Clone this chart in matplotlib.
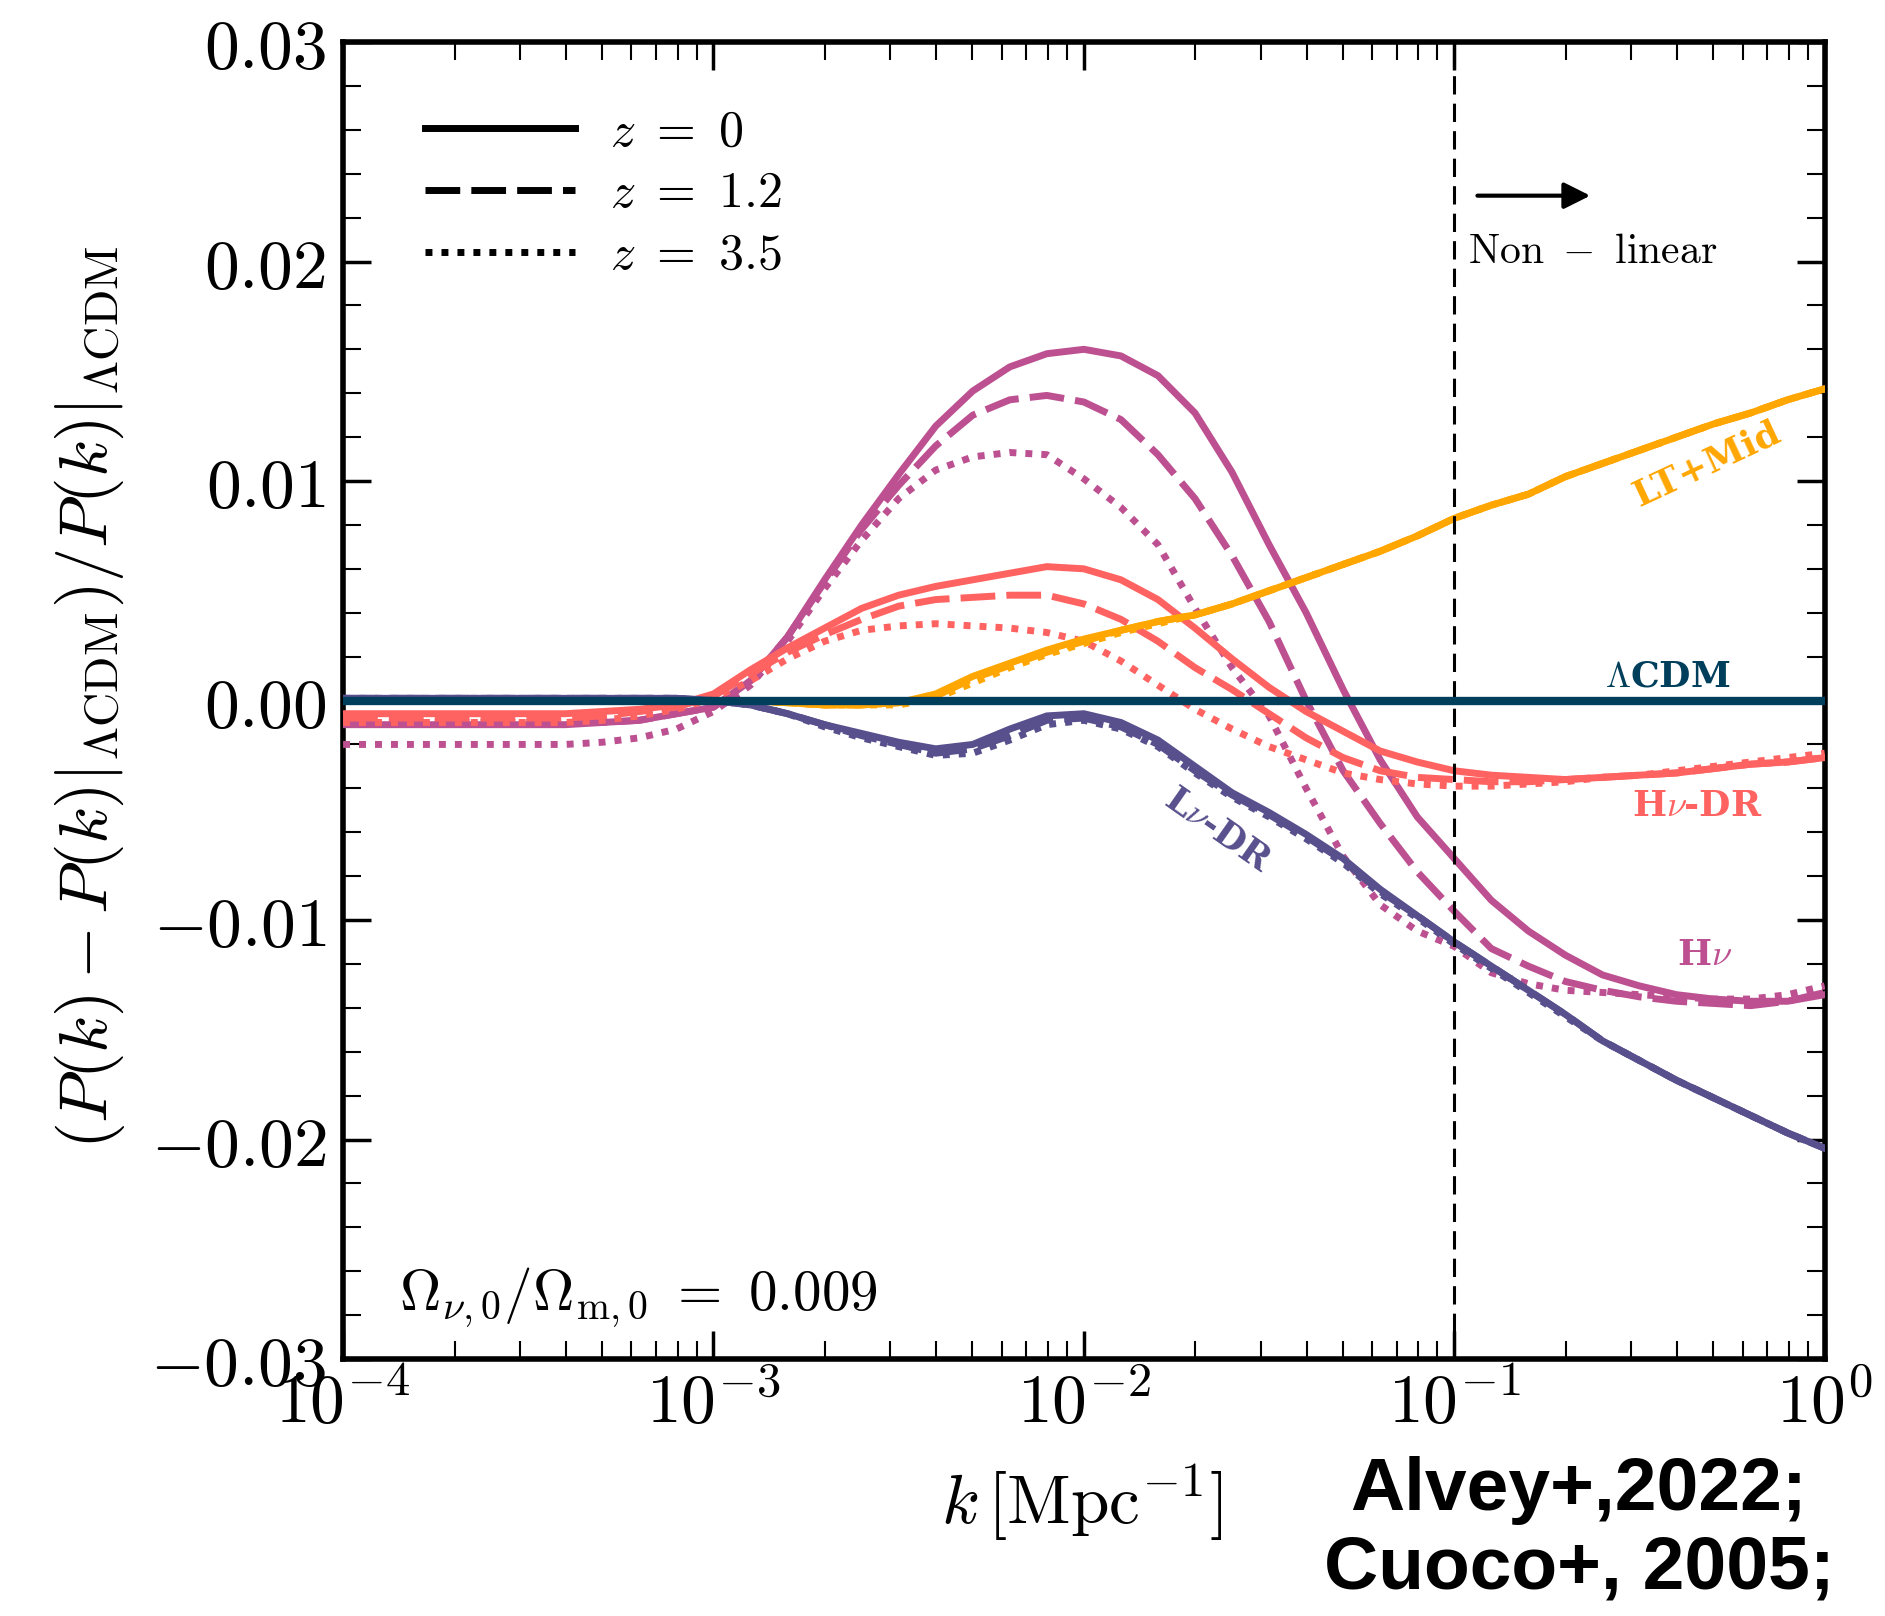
import numpy as np
import matplotlib
matplotlib.use('Agg')
import matplotlib.pyplot as plt
from matplotlib.lines import Line2D

plt.rcParams['mathtext.fontset'] = 'cm'
plt.rcParams['font.family'] = ['DejaVu Serif']

# log10(k) grid shared by all curves
logk = [-4.0, -3.6, -3.4, -3.3, -3.2, -3.1, -3.0,
        -2.9, -2.8, -2.7, -2.6, -2.5, -2.4, -2.3, -2.2, -2.1, -2.0,
        -1.9, -1.8, -1.7, -1.6, -1.5, -1.4, -1.3, -1.2, -1.1, -1.0,
        -0.9, -0.8, -0.7, -0.6, -0.5, -0.4, -0.3, -0.2, -0.1, 0.0]

# H nu
hnu_z0 = [-0.0011, -0.0011, -0.0011, -0.0010, -0.0009, -0.0006, -0.0003,
          0.0009, 0.0029, 0.0055, 0.0080, 0.0103, 0.0125, 0.0141, 0.0152, 0.0158, 0.0160,
          0.0157, 0.0148, 0.0131, 0.0104, 0.0071, 0.0040, 0.0005, -0.0027, -0.0053, -0.0072,
          -0.0091, -0.0105, -0.0116, -0.0125, -0.0130, -0.0134, -0.0136, -0.0137, -0.0137, -0.0134]
hnu_z1 = [-0.0010, -0.0010, -0.0010, -0.0010, -0.0009, -0.0006, -0.0003,
          0.0009, 0.0029, 0.0054, 0.0078, 0.0098, 0.0116, 0.0130, 0.0137, 0.0139, 0.0136,
          0.0128, 0.0112, 0.0092, 0.0066, 0.0036, 0.0000, -0.0032, -0.0056, -0.0078, -0.0096,
          -0.0113, -0.0121, -0.0128, -0.0132, -0.0135, -0.0137, -0.0138, -0.0139, -0.0137, -0.0133]
hnu_z3 = [-0.0020, -0.0020, -0.0020, -0.0019, -0.0017, -0.0013, -0.0005,
          0.0007, 0.0027, 0.0051, 0.0073, 0.0092, 0.0105, 0.0111, 0.0113, 0.0112, 0.0101,
          0.0088, 0.0071, 0.0042, 0.0015, -0.0007, -0.0040, -0.0071, -0.0093, -0.0105, -0.0112,
          -0.0124, -0.0129, -0.0132, -0.0133, -0.0134, -0.0135, -0.0136, -0.0136, -0.0134, -0.0130]

# H nu - DR
hdr_z0 = [-0.0006, -0.0006, -0.0006, -0.0005, -0.0004, -0.0002, 0.0003,
          0.0014, 0.0024, 0.0033, 0.0042, 0.0048, 0.0052, 0.0055, 0.0058, 0.0061, 0.0060,
          0.0055, 0.0046, 0.0033, 0.0019, 0.0006, -0.0005, -0.0014, -0.0023, -0.0028, -0.0032,
          -0.0034, -0.0035, -0.0036, -0.0035, -0.0034, -0.0033, -0.0031, -0.0029, -0.0028, -0.0026]
hdr_z1 = [-0.0008, -0.0008, -0.0008, -0.0007, -0.0005, -0.0003, 0.0002,
          0.0012, 0.0022, 0.0030, 0.0037, 0.0043, 0.0046, 0.0047, 0.0048, 0.0048, 0.0044,
          0.0037, 0.0027, 0.0015, 0.0005, -0.0006, -0.0017, -0.0026, -0.0032, -0.0035, -0.0036,
          -0.0037, -0.0037, -0.0036, -0.0035, -0.0034, -0.0033, -0.0031, -0.0029, -0.0028, -0.0026]
hdr_z3 = [-0.0010, -0.0010, -0.0010, -0.0009, -0.0007, -0.0004, 0.0001,
          0.0009, 0.0019, 0.0027, 0.0032, 0.0034, 0.0035, 0.0034, 0.0033, 0.0031, 0.0027,
          0.0018, 0.0007, -0.0004, -0.0013, -0.0021, -0.0027, -0.0033, -0.0036, -0.0038, -0.0039,
          -0.0039, -0.0038, -0.0037, -0.0035, -0.0034, -0.0032, -0.0030, -0.0028, -0.0026, -0.0024]

# LT + Mid
lt_z0 = [0.0, 0.0, 0.0, 0.0, 0.0, 0.0, 0.0,
         0.0, -0.0001, -0.0002, -0.0002, -0.0001, 0.0003, 0.0011, 0.0017, 0.0023, 0.0028,
         0.0032, 0.0036, 0.0039, 0.0044, 0.0050, 0.0056, 0.0062, 0.0068, 0.0075, 0.0083,
         0.0089, 0.0094, 0.0102, 0.0108, 0.0114, 0.0120, 0.0126, 0.0131, 0.0137, 0.0142]
lt_z1 = [0.0, 0.0, 0.0, 0.0, 0.0, 0.0, 0.0,
         0.0, -0.0001, -0.0002, -0.0002, -0.0001, 0.0002, 0.0010, 0.0016, 0.0022, 0.0027,
         0.0032, 0.0036, 0.0039, 0.0044, 0.0050, 0.0056, 0.0062, 0.0068, 0.0075, 0.0083,
         0.0089, 0.0094, 0.0102, 0.0108, 0.0114, 0.0120, 0.0126, 0.0131, 0.0137, 0.0142]
lt_z3 = [0.0, 0.0, 0.0, 0.0, 0.0, 0.0, 0.0,
         0.0, -0.0001, -0.0002, -0.0002, -0.0002, 0.0001, 0.0008, 0.0015, 0.0021, 0.0026,
         0.0031, 0.0035, 0.0039, 0.0044, 0.0050, 0.0056, 0.0062, 0.0068, 0.0075, 0.0083,
         0.0089, 0.0094, 0.0102, 0.0108, 0.0114, 0.0120, 0.0126, 0.0131, 0.0137, 0.0142]

# L nu - DR
ldr_z0 = [0.0001, 0.0001, 0.0001, 0.0001, 0.0001, 0.0001, 0.0000,
          -0.0002, -0.0006, -0.0011, -0.0015, -0.0019, -0.0022, -0.0020, -0.0013, -0.0007, -0.0006,
          -0.0010, -0.0018, -0.0030, -0.0042, -0.0051, -0.0061, -0.0072, -0.0086, -0.0098, -0.0110,
          -0.0121, -0.0132, -0.0143, -0.0155, -0.0164, -0.0173, -0.0181, -0.0189, -0.0197, -0.0204]
ldr_z1 = [0.0001, 0.0001, 0.0001, 0.0001, 0.0001, 0.0001, 0.0000,
          -0.0002, -0.0006, -0.0011, -0.0016, -0.0020, -0.0024, -0.0022, -0.0016, -0.0009, -0.0008,
          -0.0012, -0.0020, -0.0032, -0.0043, -0.0052, -0.0062, -0.0073, -0.0087, -0.0098, -0.0110,
          -0.0121, -0.0132, -0.0143, -0.0155, -0.0164, -0.0173, -0.0181, -0.0189, -0.0197, -0.0204]
ldr_z3 = [0.0001, 0.0001, 0.0001, 0.0001, 0.0001, 0.0001, 0.0000,
          -0.0002, -0.0006, -0.0012, -0.0017, -0.0021, -0.0025, -0.0024, -0.0018, -0.0011, -0.0009,
          -0.0013, -0.0021, -0.0033, -0.0044, -0.0053, -0.0063, -0.0074, -0.0088, -0.0099, -0.0111,
          -0.0122, -0.0133, -0.0144, -0.0155, -0.0164, -0.0173, -0.0181, -0.0189, -0.0197, -0.0204]

# Lambda CDM reference
logk_lcdm = [-4.0, 0.0]
lcdm = [0.0, 0.0]

models = [
    ('#bc5090', [hnu_z0, hnu_z1, hnu_z3]),
    ('#ff6361', [hdr_z0, hdr_z1, hdr_z3]),
    ('#ffa600', [lt_z0, lt_z1, lt_z3]),
    ('#58508d', [ldr_z0, ldr_z1, ldr_z3]),
]
redshifts = ['0', '1.2', '3.5']
dash_styles = ['-', (0, (5, 1.6)), (0, (1, 1.3))]

yticks = [-0.03, -0.02, -0.01, 0.0, 0.01, 0.02, 0.03]
ytick_labels = [r'$-0.03$', r'$-0.02$', r'$-0.01$', r'$0.00$', r'$0.01$', r'$0.02$', r'$0.03$']

k = 10 ** np.array(logk)

fig = plt.figure(figsize=(18.85, 16.16), dpi=100)
ax = fig.add_axes([0.182, 0.159, 0.786, 0.815])

for color, curves in models:
    for vals, ls in zip(curves, dash_styles):
        ax.plot(k, vals, color=color, ls=ls, lw=5, zorder=3,
                solid_joinstyle='round', dash_joinstyle='round')

ax.plot(10 ** np.array(logk_lcdm), lcdm, color='#003f5c', lw=6, zorder=5)

ax.axvline(0.1, color='black', ls=(0, (6, 3)), lw=2.2, zorder=4)

ax.set_xscale('log')
ax.set_xlim(1e-4, 1)
ax.set_ylim(-0.03, 0.03)
ax.set_xticks([1e-4, 1e-3, 1e-2, 1e-1, 1])
ax.set_xticklabels([r'$10^{-4}$', r'$10^{-3}$', r'$10^{-2}$', r'$10^{-1}$', r'$10^{0}$'])
ax.set_yticks(yticks)
ax.set_yticklabels(ytick_labels)
ax.set_yticks(np.arange(-0.03, 0.0301, 0.002), minor=True)

ax.tick_params(which='both', direction='in', top=True, right=True)
ax.tick_params(which='major', length=20, width=2.5, labelsize=50)
ax.tick_params(which='minor', length=13, width=1.5)
ax.tick_params(axis='y', which='major', pad=12)
ax.tick_params(axis='x', which='major', pad=8)
for sp in ax.spines.values():
    sp.set_linewidth(4)

# redshift legend
handles = [Line2D([], [], color='black', ls=ls, lw=5) for ls in dash_styles]
ax.legend(handles, [r'$z\ =\ %s$' % z for z in redshifts], loc='upper left',
          bbox_to_anchor=(0.025, 0.985), frameon=False, fontsize=36,
          handlelength=3.0, handletextpad=0.7, labelspacing=0.25)

# curve labels
ax.text(0.48, 0.0108, r'LT+Mid', color='#ffa600', fontsize=26, fontweight='bold',
        rotation=25, ha='center', va='center')
ax.text(0.378, 0.0011, r'$\Lambda$CDM', color='#003f5c', fontsize=26, fontweight='bold',
        ha='center', va='center')
ax.text(0.453, -0.0048, r'H$\nu$-DR', color='#ff6361', fontsize=26, fontweight='bold',
        ha='center', va='center')
ax.text(0.474, -0.0116, r'H$\nu$', color='#bc5090', fontsize=26, fontweight='bold',
        ha='center', va='center')
ax.text(0.023, -0.0059, r'L$\nu$-DR', color='#58508d', fontsize=26, fontweight='bold',
        rotation=-35, ha='center', va='center')

ax.annotate('', xy=(0.237, 0.0230), xytext=(0.1135, 0.0230),
            arrowprops=dict(arrowstyle='-|>', color='black', lw=3, mutation_scale=40))
ax.text(0.109, 0.01995, r'$\mathrm{Non\ -\ linear}$', fontsize=30, ha='left', va='baseline')

ax.text(0.038, 0.037, r'$\Omega_{\nu,0}/\Omega_{\mathrm{m},0}\ =\ 0.009$', fontsize=41,
        transform=ax.transAxes, ha='left', va='baseline')

fig.text(0.0477, 0.5687,
         r'$\left(P(k) - P(k)|_{\Lambda\mathrm{CDM}}\right)/P(k)|_{\Lambda\mathrm{CDM}}$',
         rotation=90, fontsize=49, ha='center', va='center')
fig.text(0.574, 0.070, r'$k\,[\mathrm{Mpc}^{-1}]$', fontsize=50, ha='center', va='center')

fig.text(0.8376, 0.0774, 'Alvey+,2022;', family='Liberation Sans', fontweight='bold',
         fontsize=54, ha='center', va='center')
fig.text(0.8376, 0.029, 'Cuoco+, 2005;', family='Liberation Sans', fontweight='bold',
         fontsize=54, ha='center', va='center')

fig.savefig('out.png', dpi=100)
